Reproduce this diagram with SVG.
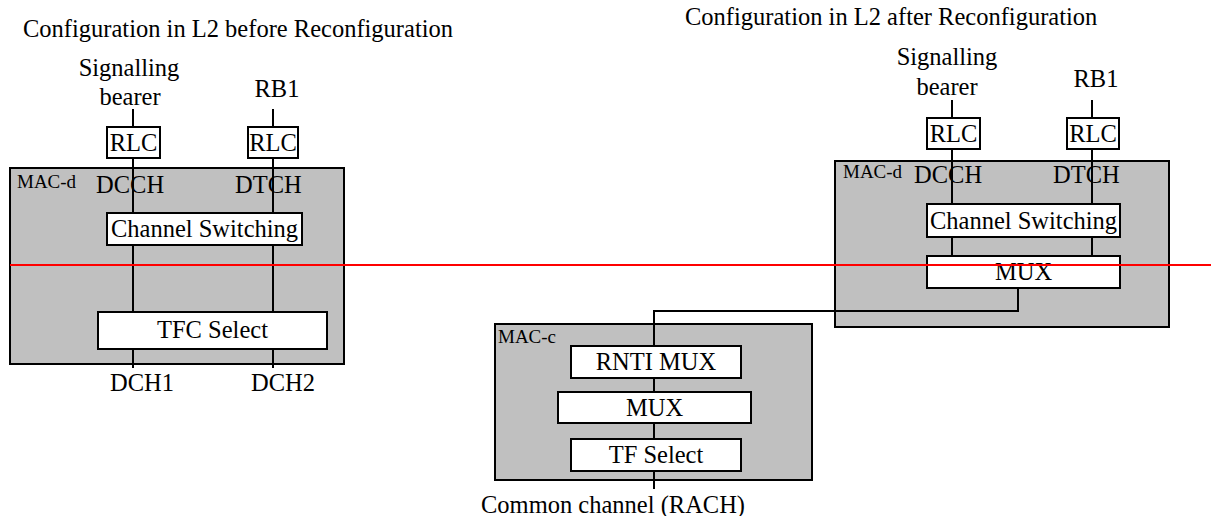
<svg xmlns="http://www.w3.org/2000/svg" width="1211" height="516" viewBox="0 0 1211 516" font-family="'Liberation Serif', 'Times New Roman', Times, serif">
<style>
text{font-family:'Liberation Serif','Times New Roman',Times,serif;fill:#000}
.t{font-size:24.5px}
.m{text-anchor:middle}
.s{font-size:19px}
.mac{fill:#c0c0c0;stroke:#000;stroke-width:2}
.box{fill:#fff;stroke:#000;stroke-width:2}
.ln{fill:none;stroke:#000;stroke-width:2}
.red{stroke:#ff0000;stroke-width:2}
</style>
<rect width="1211" height="516" fill="#fff"/>
<text class="t" x="23" y="37">Configuration in L2 before Reconfiguration</text>
<text class="t" x="685" y="25">Configuration in L2 after Reconfiguration</text>

<g id="left-macd">
<rect class="mac" x="10" y="168" width="334" height="196"/>
<text class="s" x="17" y="188">MAC-d</text>
</g>
<g id="right-macd">
<rect class="mac" x="835" y="161" width="334" height="166"/>
<text class="s" x="843" y="178">MAC-d</text>
</g>
<g id="macc">
<rect class="mac" x="495" y="324" width="317" height="156"/>
<text class="s" x="498" y="343">MAC-c</text>
</g>

<g id="connectors">
<path class="ln" d="M133 109V368M273 109V368"/>
<path class="ln" d="M952 100V256M1092 100V256"/>
<path class="ln" d="M1018 288V311H654V489"/>
</g>

<g id="left-labels">
<text class="t m" x="129" y="76">Signalling</text>
<text class="t m" x="130" y="105">bearer</text>
<text class="t m" x="277" y="97">RB1</text>
<text class="t" x="96" y="193">DCCH</text>
<text class="t" x="235" y="193">DTCH</text>
<text class="t" x="110" y="391">DCH1</text>
<text class="t" x="251" y="391">DCH2</text>
</g>
<g id="left-rlc1"><rect class="box" x="107" y="127" width="53" height="31"/><text class="t m" x="133.5" y="151">RLC</text></g>
<g id="left-rlc2"><rect class="box" x="248" y="127" width="50" height="31"/><text class="t m" x="273" y="151">RLC</text></g>
<g id="left-cs"><rect class="box" x="107" y="213" width="195" height="32"/><text class="t m" x="204.5" y="237">Channel Switching</text></g>
<g id="left-tfc"><rect class="box" x="98" y="312" width="229" height="37"/><text class="t m" x="212.5" y="338">TFC Select</text></g>

<g id="right-labels">
<text class="t m" x="947" y="65">Signalling</text>
<text class="t m" x="947" y="95">bearer</text>
<text class="t m" x="1096" y="87">RB1</text>
<text class="t" x="914" y="183">DCCH</text>
<text class="t" x="1053" y="183">DTCH</text>
</g>
<g id="right-rlc1"><rect class="box" x="927" y="118" width="53" height="31"/><text class="t m" x="953.5" y="142">RLC</text></g>
<g id="right-rlc2"><rect class="box" x="1067" y="118" width="52" height="31"/><text class="t m" x="1093" y="142">RLC</text></g>
<g id="right-cs"><rect class="box" x="927" y="204" width="193" height="33"/><text class="t m" x="1023.5" y="229">Channel Switching</text></g>
<g id="right-mux"><rect class="box" x="927" y="256" width="193" height="32"/><text class="t m" x="1023.5" y="280">MUX</text></g>

<g id="rnti-mux"><rect class="box" x="571" y="346" width="170" height="32"/><text class="t m" x="656" y="370">RNTI MUX</text></g>
<g id="macc-mux"><rect class="box" x="558" y="392" width="193" height="31"/><text class="t m" x="654.5" y="416">MUX</text></g>
<g id="tf-select"><rect class="box" x="571" y="439" width="170" height="32"/><text class="t m" x="656" y="463">TF Select</text></g>
<text class="t" x="481" y="513">Common channel (RACH)</text>

<line class="red" x1="10" y1="265" x2="1211" y2="265"/>
</svg>
